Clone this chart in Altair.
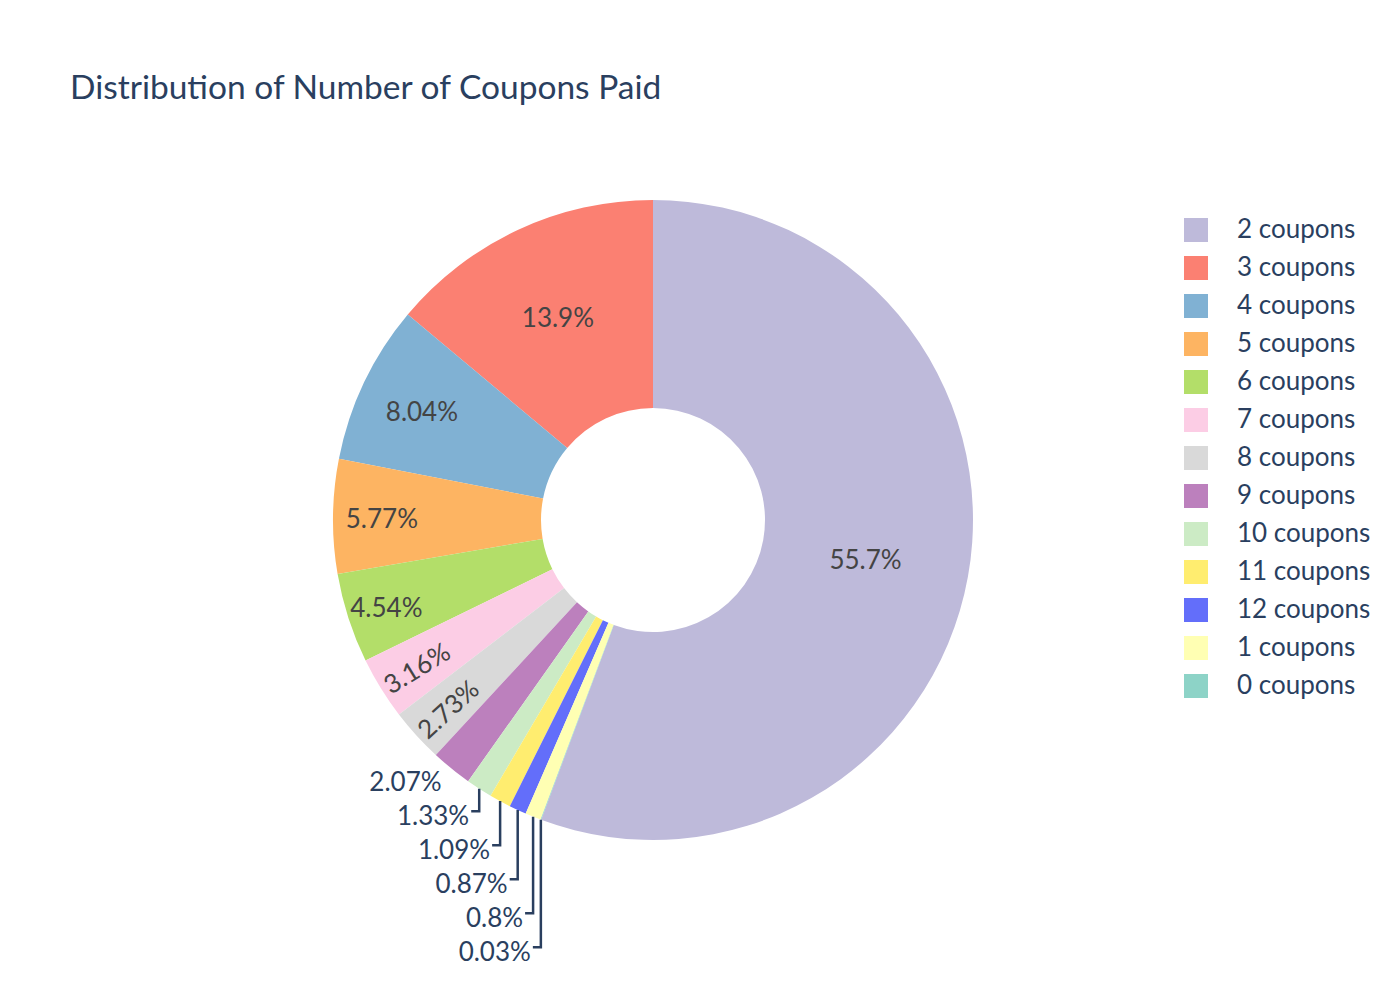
import math
import altair as alt
import pandas as pd

# ---------------- data ----------------
labels = ["2 coupons", "3 coupons", "4 coupons", "5 coupons", "6 coupons",
          "7 coupons", "8 coupons", "9 coupons", "10 coupons", "11 coupons",
          "12 coupons", "1 coupons", "0 coupons"]
percent = [55.7, 13.9, 8.04, 5.77, 4.54, 3.16, 2.73, 2.07, 1.33, 1.09, 0.87, 0.8, 0.03]
colors = ["#bebada", "#fb8072", "#80b1d3", "#fdb462", "#b3de69", "#fccde5",
          "#d9d9d9", "#bc80bd", "#ccebc5", "#ffed6f", "#636efa", "#ffffb3", "#8dd3c7"]
title_text = "Distribution of Number of Coupons Paid"

# ---------------- layout constants ----------------
R = 320            # outer radius (px)
HOLE = 0.35        # hole fraction
RING = 1 - HOLE
CX, CY = 645, 404  # pie centre inside the view
FONT = "Lato"
FS = 26
DARK = "#2a3f5f"
REF_FS = 27        # reference font size used for fitting labels
TEXT_H = 34
LINE_STEP = 34

n = len(labels)
total = sum(percent)
texts = [f"{v:.3g}%" for v in percent]

# drawing order, clockwise from 12 o'clock: first slice, then the rest reversed
draw_order = [0] + list(range(n - 1, 0, -1))
ord_of = {i: k for k, i in enumerate(draw_order)}
start = {}
acc = 0.0
for i in draw_order:
    start[i] = acc
    acc += percent[i] / total * 360.0


def text_w(s):
    w = 0.0
    for c in s:
        w += 0.5 if c.isdigit() else (0.25 if c == "." else 0.82)
    return w * REF_FS


def polar(r, deg):
    a = math.radians(deg)
    return r * math.sin(a), -r * math.cos(a)


inside_rows, outside_rows = [], []
for i in range(n):
    span = percent[i] / total * 360.0
    mid = start[i] + span / 2
    half = math.radians(span / 2)
    w = text_w(texts[i])
    h = TEXT_H
    r_ins = min(1 / (1 + 1 / math.sin(half)), RING / 2)
    if 2 * r_ins * R >= math.hypot(w, h):
        x, y = polar(R * (1 - r_ins), mid)
        inside_rows.append({"x": x, "y": y, "text": texts[i], "angle": 0})
        continue
    rp = R - 6
    a = w / h
    q = a + 1 / (2 * math.tan(half))
    s = rp * min(1 / (math.sqrt(q * q + 0.5) + q), RING / (math.sqrt(a * a + RING / 2) + a))
    if 2 * s / h >= 1:
        b = (h / 2) / rp
        x, y = polar(rp * (math.cos(b) - a * b), mid)
        rot = mid - 90
        while rot > 90:
            rot -= 180
        while rot <= -90:
            rot += 180
        inside_rows.append({"x": x, "y": y, "text": texts[i], "angle": rot % 360})
    else:
        xo, yo = polar(R, mid)
        outside_rows.append({"xo": xo, "yo": yo, "text": texts[i], "nat": yo + 11.5})

# stack outside labels downward
outside_rows.sort(key=lambda d: d["nat"])
prev = -1e9
label_rows, line_rows = [], []
for k, d in enumerate(outside_rows):
    y = max(d["nat"], prev + LINE_STEP)
    prev = y
    label_rows.append({"x": d["xo"] - 10, "y": y, "text": d["text"]})
    if y > d["nat"] + 0.5:
        pts = [(d["xo"], d["yo"]), (d["xo"], y - 3), (d["xo"] - 8, y - 3)]
        for s_i, (px, py) in enumerate(pts):
            line_rows.append({"x": px, "y": py, "grp": d["text"], "seq": s_i})

arcs_df = pd.DataFrame({"label": labels, "value": percent,
                        "ord": [ord_of[i] for i in range(n)]})
inside_df = pd.DataFrame(inside_rows)
outside_df = pd.DataFrame(label_rows)
lines_df = pd.DataFrame(line_rows)

xs = alt.Scale(domain=[-CX, CX], nice=False, zero=False)
ys = alt.Scale(domain=[-CY, CY], nice=False, zero=False, reverse=True)

arcs = alt.Chart(arcs_df).mark_arc(
    outerRadius=R, innerRadius=R * HOLE, strokeWidth=0
).encode(
    theta=alt.Theta("value:Q", stack=True),
    order=alt.Order("ord:Q"),
    color=alt.Color(
        "label:N",
        scale=alt.Scale(domain=labels, range=colors),
        legend=alt.Legend(
            title=None, orient="none", legendX=1175, legendY=101,
            symbolType="square", symbolSize=576, symbolStrokeWidth=0,
            symbolOpacity=1, labelFont=FONT, labelFontSize=FS,
            labelColor=DARK, labelOffset=28, rowPadding=12, labelLimit=400,
            padding=0,
        ),
    ),
)

lines = alt.Chart(lines_df).mark_line(color=DARK, strokeWidth=2.5).encode(
    x=alt.X("x:Q", scale=xs, axis=None),
    y=alt.Y("y:Q", scale=ys, axis=None),
    detail="grp:N",
    order="seq:Q",
)

inside = alt.Chart(inside_df).mark_text(
    font=FONT, fontSize=FS, color="#444444", align="center", baseline="middle", dy=3
).encode(
    x=alt.X("x:Q", scale=xs, axis=None),
    y=alt.Y("y:Q", scale=ys, axis=None),
    text="text:N",
    angle=alt.Angle("angle:Q", scale=None),
)

outside = alt.Chart(outside_df).mark_text(
    font=FONT, fontSize=FS, color=DARK, align="right", baseline="middle", dy=3
).encode(
    x=alt.X("x:Q", scale=xs, axis=None),
    y=alt.Y("y:Q", scale=ys, axis=None),
    text="text:N",
)

chart = alt.layer(arcs, lines, inside, outside).properties(
    width=2 * CX,
    height=2 * CY,
    padding={"left": 0, "top": 108, "right": 94, "bottom": 68},
    autosize=alt.AutoSizeParams(type="none"),
    title=alt.TitleParams(
        text=title_text, anchor="start", frame="group", dx=62, offset=10,
        fontSize=33.5, font=FONT, fontWeight="normal", color=DARK,
    ),
    background="white",
).configure_view(strokeWidth=0)

chart.save("out.html", embed_options={"renderer": "svg", "actions": False})
